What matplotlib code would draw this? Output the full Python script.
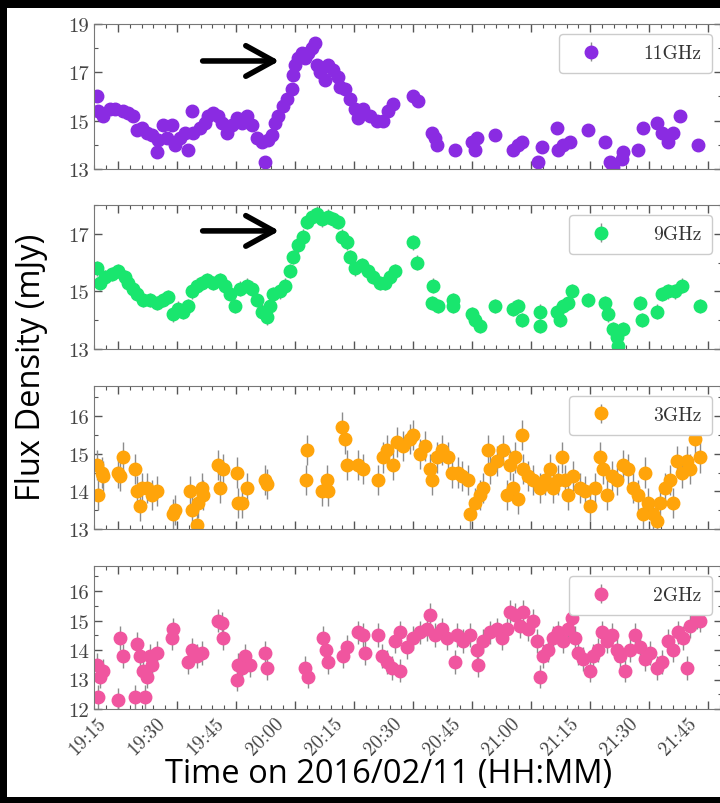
import matplotlib.pyplot as plt
import matplotlib.transforms as mtransforms
from matplotlib.patches import Rectangle
from matplotlib.ticker import MultipleLocator, FuncFormatter

plt.rcParams['font.family'] = 'cmr10'
plt.rcParams['axes.unicode_minus'] = False

# times are minutes after 19:00 on 2016/02/11, flux in mJy
t11 = [9.7, 9.9, 11.2, 13.0, 14.2, 16.3, 17.5, 18.8, 19.8, 21.1, 22.4, 23.6, 24.9, 25.2, 26.4,
       27.5, 28.7, 29.5, 30.8, 32.0, 32.8, 33.8, 34.1, 35.8, 37.1, 37.9, 39.1, 40.4, 41.4, 42.7,
       44.0, 45.2, 46.5, 47.8, 49.1, 50.3, 51.6, 52.4, 53.1, 54.1, 54.9, 55.7, 56.9, 58.0, 59.2,
       59.5, 60.0, 60.8, 61.8, 62.5, 63.3, 64.3, 65.1, 65.6, 66.3, 67.6, 68.4, 69.7, 70.9, 71.4,
       72.7, 74.0, 75.2, 76.0, 77.3, 79.1, 80.8, 82.4, 83.6, 84.9, 90.0, 91.3, 94.8, 95.6, 96.1,
       100.7, 105.0, 105.8, 106.3, 110.8, 115.4, 116.7, 117.7, 121.8, 122.8, 126.6, 126.8, 128.1,
       129.9, 134.5, 138.8, 140.1, 140.8, 143.1, 143.4, 147.2, 148.5, 152.0, 153.3, 154.8, 156.1,
       157.9, 162.4]
f11 = [16.0, 15.4, 15.2, 15.5, 15.5, 15.4, 15.3, 15.2, 14.6, 14.7, 14.5, 14.4, 13.7, 14.2, 14.8,
       14.3, 14.8, 14.0, 14.3, 14.5, 13.8, 15.4, 14.5, 14.7, 14.9, 15.2, 15.3, 15.2, 14.9, 14.5,
       14.8, 15.1, 14.9, 15.2, 14.8, 14.3, 14.1, 13.3, 14.2, 14.4, 14.9, 15.2, 15.6, 15.9, 16.3,
       16.9, 17.3, 17.6, 17.8, 17.6, 17.8, 18.0, 18.2, 17.3, 17.0, 16.7, 17.3, 17.1, 16.8, 16.4,
       16.3, 15.9, 15.5, 15.1, 15.5, 15.2, 15.0, 15.0, 15.4, 15.7, 16.0, 15.8, 14.5, 14.3, 14.0,
       13.8, 14.1, 13.8, 14.3, 14.4, 13.8, 14.0, 14.1, 13.3, 13.9, 14.7, 13.8, 14.0,
       14.1, 14.6, 14.1, 13.3, 13.1, 13.4, 13.7, 13.8, 14.7, 14.9, 14.5, 14.1, 14.5,
       15.2, 14.0]

t9 = [9.7, 10.4, 11.7, 13.5, 15.0, 16.8, 17.5, 18.8, 19.8, 21.4, 23.1, 24.9, 26.4, 27.7, 29.0,
      30.3, 31.5, 32.8, 33.8, 35.1, 36.4, 37.6, 39.2, 40.9, 42.2, 43.5, 44.7, 46.0, 47.8, 49.1,
      50.3, 51.6, 52.9, 53.6, 54.4, 56.2, 57.5, 58.7, 59.5, 60.8, 62.0, 63.0, 64.3, 65.6, 66.9,
      68.4, 69.7, 70.9, 71.9, 73.2, 74.0, 75.2, 77.0, 78.6, 79.8, 81.6, 82.9, 84.1, 85.4, 90.0,
      91.0, 95.1, 94.8, 96.3, 100.2, 100.2, 105.0, 105.8, 107.0, 110.8, 115.4, 116.7, 117.7, 122.3,
      122.3, 126.6, 127.4, 128.1, 129.4, 130.4, 134.5, 138.8, 139.6, 140.8, 141.8, 142.1, 143.4,
      147.7, 148.2, 152.0, 153.3, 154.8, 156.6, 158.4, 162.9]
f9 = [15.8, 15.3, 15.5, 15.6, 15.7, 15.5, 15.3, 15.1, 14.9, 14.7, 14.7, 14.6, 14.7, 14.8, 14.2,
      14.4, 14.3, 14.5, 15.0, 15.2, 15.3, 15.4, 15.3, 15.4, 15.2, 14.9, 14.5, 15.1, 15.2, 15.1,
      14.7, 14.3, 14.1, 14.5, 14.9, 15.0, 15.2, 15.7, 16.2, 16.6, 16.9, 17.4, 17.6, 17.7, 17.5,
      17.6, 17.5, 17.4, 16.9, 16.7, 16.2, 15.8, 15.9, 15.7, 15.5, 15.3, 15.3, 15.5, 15.7, 16.7,
      16.0, 15.2, 14.6, 14.5, 14.7, 14.5, 14.2, 14.0, 13.8, 14.5, 14.4, 14.5, 14.0, 14.3,
      13.8, 14.3, 14.0, 14.5, 14.6, 15.0, 14.7, 14.6, 14.2, 13.7, 13.4, 13.1, 13.7,
      14.6, 14.0, 14.3, 14.9, 15.0, 15.0, 15.2, 14.5]

t3 = [9.7, 9.9, 10.9, 11.2, 15.0, 15.5, 16.3, 19.3, 19.8, 20.6, 21.1, 22.4, 23.6, 24.9, 29.0,
      29.5, 33.3, 33.8, 35.1, 35.3, 36.4, 36.6, 40.4, 40.9, 41.7, 45.3, 45.5, 46.5, 47.8, 52.4,
      52.9, 62.8, 63.0, 66.9, 68.4, 68.1, 71.9, 72.7, 73.2, 76.0, 77.3, 81.1, 82.4, 83.4, 84.9,
      85.9, 87.5, 89.2, 90.0, 91.8, 93.0, 94.3, 94.8, 96.1, 97.4, 98.9, 99.9, 101.4, 102.5, 104.0,
      104.5, 105.8, 107.0, 107.8, 109.1, 109.6, 111.3, 112.9, 113.9, 114.7, 115.4, 115.9, 116.7,
      117.7, 118.0, 119.2, 120.5, 122.3, 123.5, 124.8, 125.6, 126.9, 127.9, 128.6, 129.4, 130.7,
      132.4, 133.7, 135.0, 136.3, 137.5, 138.3, 139.3, 140.6, 141.9, 143.4, 144.6, 145.9, 147.2,
      148.5, 149.0, 149.7, 151.0, 152.0, 152.8, 154.0, 155.3, 156.1, 157.1, 158.4, 159.6, 160.4,
      161.7, 162.9]
f3 = [14.7, 13.9, 14.5, 14.4, 14.5, 14.4, 14.9, 14.6, 14.0, 13.6, 14.1, 14.1, 13.9, 14.0, 13.4,
      13.5, 14.0, 13.5, 13.1, 13.7, 14.1, 13.9, 14.7, 14.1, 14.6, 14.5, 13.7, 13.7, 14.1, 14.3,
      14.2, 14.3, 15.1, 14.0, 14.0, 14.3, 15.7, 15.4, 14.7, 14.7, 14.6, 14.3, 14.9, 15.1, 14.7,
      15.3, 15.2, 15.4, 15.5, 15.0, 15.2, 14.6, 14.3, 14.9, 15.1, 14.9, 14.5, 14.5, 14.4, 14.3,
      13.4, 13.7, 13.9, 14.1, 15.1, 14.6, 14.8, 15.1, 13.9, 14.7, 14.1, 14.9, 13.8,
      15.5, 14.6, 14.4, 14.3, 14.1, 14.3, 14.6, 14.1, 14.3, 14.9, 14.3, 13.9, 14.4,
      14.1, 14.0, 13.6, 14.1, 14.9, 14.6, 13.9, 14.4, 14.3, 14.7, 14.6, 14.1, 13.9,
      13.4, 14.5, 13.7, 13.4, 13.2, 13.7, 14.1, 14.3, 13.7, 14.8, 14.5, 14.8, 14.6,
      15.4, 14.9]

t2 = [9.7, 9.9, 10.4, 11.2, 15.0, 15.5, 16.3, 19.3, 19.8, 20.6, 21.4, 21.9, 22.4, 23.1, 23.6,
      24.9, 28.7, 29.0, 32.8, 33.8, 35.1, 36.4, 40.4, 41.4, 41.7, 45.3, 45.5, 46.5, 47.3, 48.6,
      52.4, 52.9, 62.5, 63.3, 67.1, 67.9, 68.4, 72.2, 73.2, 76.0, 77.3, 77.8, 81.1, 82.1, 83.4,
      84.7, 85.4, 86.7, 86.7, 88.5, 90.0, 91.8, 93.6, 94.3, 95.6, 97.4, 98.6, 100.7, 101.2, 102.7,
      104.5, 106.3, 106.5, 107.8, 109.6, 111.3, 112.6, 113.9, 114.7, 115.9, 117.2, 118.0, 119.2,
      120.5, 121.5, 122.3, 123.0, 124.3, 125.6, 126.9, 128.1, 129.4, 130.4, 131.2, 131.9, 133.2,
      135.0, 135.8, 137.0, 138.0, 139.3, 140.6, 141.9, 142.6, 143.9, 145.2, 146.4, 147.7, 149.0,
      150.2, 152.0, 153.3, 154.8, 156.1, 157.4, 158.6, 159.6, 160.4, 162.2, 162.9]
f2 = [13.5, 12.4, 13.1, 13.3, 12.3, 14.4, 13.8, 12.4, 14.2, 13.8, 13.3, 12.4, 13.1, 13.8, 13.5,
      13.9, 14.4, 14.7, 13.6, 14.0, 13.8, 13.9, 15.0, 14.9, 14.4, 13.0, 13.5, 13.4, 13.8, 13.5,
      13.9, 13.4, 13.4, 13.1, 14.4, 14.0, 13.6, 13.8, 14.1, 14.6, 14.5, 13.9, 14.5, 13.8, 13.6,
      13.4, 14.3, 13.3, 14.6, 14.1, 14.4, 14.6, 14.7, 15.2, 14.5, 14.7, 14.4, 13.6, 14.5, 14.3,
      14.5, 14.0, 13.5, 14.3, 14.6, 14.7, 14.4, 14.7, 15.3, 15.2, 14.8, 15.3, 14.7,
      15.0, 14.3, 13.1, 13.8, 14.0, 14.4, 14.6, 14.3, 14.7, 15.1, 14.4, 13.9, 13.7,
      13.3, 13.8, 14.0, 14.6, 14.3, 14.5, 14.0, 13.8, 13.3, 14.0, 14.5, 14.1, 13.7,
      13.9, 13.4, 13.6, 14.3, 14.0, 14.6, 14.4, 13.4, 14.8, 15.1, 15.0]

bands = ['11GHz', '9GHz', '3GHz', '2GHz']
times = [t11, t9, t3, t2]
fluxes = [f11, f9, f3, f2]
errs = [0.2, 0.25, 0.4, 0.4]
colors = ['#8a2be2', '#19e66e', '#ffa40a', '#f0559f']
ylims = [(13, 19), (13, 18), (13, 16.8), (12, 16.85)]
ymajor = [2, 2, 1, 1]
yminor = [1, 1, 0.5, 0.5]

fig = plt.figure(figsize=(7.2, 8.04), dpi=100, facecolor='black')
# white sheet inside the black frame
fig.patches.append(Rectangle((0.0097, 0.0075), 1.0, 0.981, transform=fig.transFigure,
                             facecolor='white', edgecolor='none', zorder=-10))

bottoms = [0.7886, 0.5647, 0.3408, 0.1169]
heights = [0.1803, 0.1791, 0.1779, 0.1779]


def hhmm(m, pos):
    m = int(round(m))
    return '%d:%02d' % (19 + m // 60, m % 60)


axes = []
for i in range(4):
    ax = fig.add_axes([0.1306, bottoms[i], 0.8722, heights[i]])
    ax.set_zorder(1)
    ax.errorbar(times[i], fluxes[i], yerr=errs[i], fmt='o', ms=9, color=colors[i],
                mec=colors[i], ecolor='#8c8c8c', elinewidth=1, capsize=0, label=bands[i])
    ax.set_xlim(8.9, 168.5)
    ax.set_ylim(*ylims[i])
    ax.xaxis.set_major_locator(MultipleLocator(15))
    ax.xaxis.set_minor_locator(MultipleLocator(3))
    ax.yaxis.set_major_locator(MultipleLocator(ymajor[i], offset=1))
    ax.yaxis.set_minor_locator(MultipleLocator(yminor[i]))
    ax.yaxis.set_major_formatter(FuncFormatter(lambda v, p: '%g' % v))
    ax.tick_params(which='both', direction='in', top=True, right=True,
                   color='#555555', labelcolor='#444444')
    ax.tick_params(axis='y', labelsize=15)
    ax.tick_params(axis='x', labelsize=14)
    ax.tick_params(which='major', length=6, width=1)
    ax.tick_params(which='minor', length=3, width=0.8)
    for s in ax.spines.values():
        s.set_color('#777777')
    leg = ax.legend(loc='upper right', fontsize=14, handlelength=2.2, handletextpad=1.6,
                    borderpad=0.55, fancybox=True, edgecolor='#cccccc', framealpha=1)
    for txt in leg.get_texts():
        txt.set_color('#333333')
    if i < 3:
        ax.tick_params(labelbottom=False)
    axes.append(ax)

bax = axes[-1]
bax.xaxis.set_major_formatter(FuncFormatter(hhmm))
shift = mtransforms.ScaledTranslation(-0.08, 0, fig.dpi_scale_trans)
for lab in bax.get_xticklabels():
    lab.set_rotation(45)
    lab.set_ha('right')
    lab.set_transform(lab.get_transform() + shift)

# arrows marking the flare peak
for ax, y in [(axes[0], 17.47), (axes[1], 17.1)]:
    ax.annotate('', xy=(56.7, y), xytext=(35.8, y),
                arrowprops=dict(arrowstyle='->,head_width=0.55,head_length=1.0',
                                lw=4, color='black', mutation_scale=20))

fig.text(0.044, 0.543, 'Flux Density (mJy)', rotation=90, ha='center', va='center',
         fontsize=23.5, family='Open Sans', color='black')
fig.text(0.539, 0.037, 'Time on 2016/02/11 (HH:MM)', ha='center', va='center',
         fontsize=23.5, family='Open Sans', color='black')

fig.savefig('out.png', dpi=100, facecolor=fig.get_facecolor())
